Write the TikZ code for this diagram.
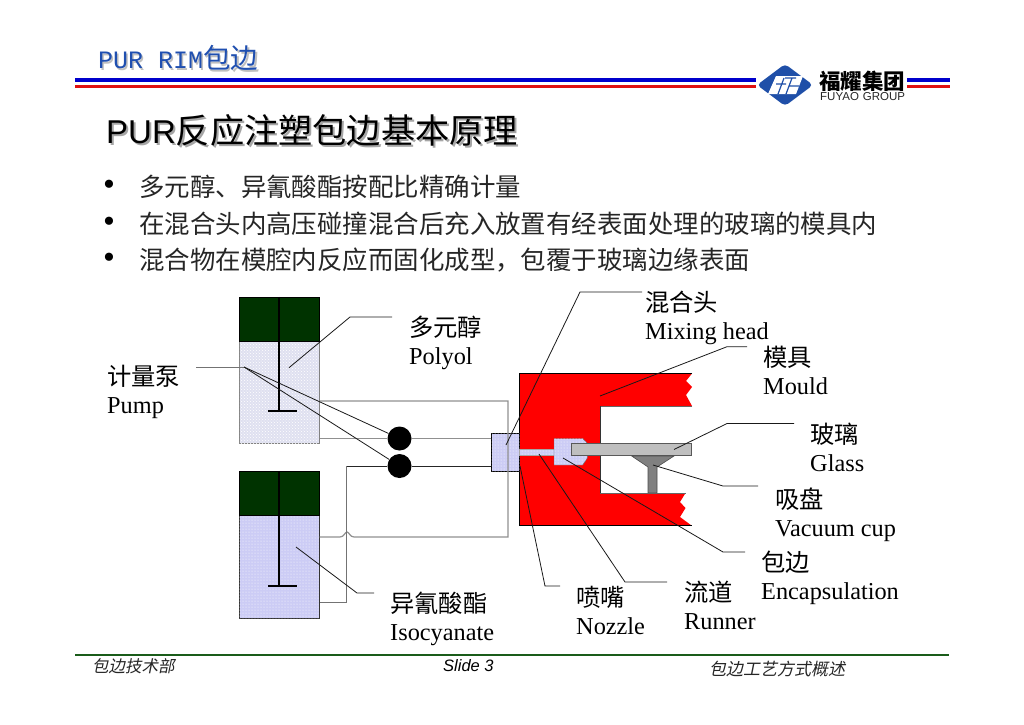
\documentclass[tikz,border=0pt]{standalone}
\usepackage{fontspec}
\usepackage{xcolor}
\usepackage{tikz}
\usetikzlibrary{patterns}
\setmainfont{Liberation Serif}
\setsansfont{Liberation Sans}
\setmonofont{Liberation Mono}
\newfontfamily\cjk{Noto Sans CJK SC}
\newfontfamily\cjkslant[FakeSlant=0.2]{Noto Sans CJK SC}
\definecolor{mHeadBlue}{HTML}{1F4FB0}
\definecolor{mRuleBlue}{HTML}{0000CC}
\definecolor{mRuleRed}{HTML}{E01010}
\definecolor{mLogoBlue}{HTML}{1F4FA8}
\definecolor{mFootGreen}{HTML}{1A5C1A}
\definecolor{mTankDark}{HTML}{003300}
\definecolor{mPolyol}{HTML}{DFE0F0}
\definecolor{mIso}{HTML}{CCCCF5}
\definecolor{mMould}{HTML}{FF0000}
\definecolor{mGlass}{HTML}{BFBFBF}
\definecolor{mCup}{HTML}{808080}
\definecolor{mPipe}{HTML}{909090}
\begin{document}
\begin{tikzpicture}[x=1pt,y=-1pt,
      txt/.style={anchor=west, inner sep=0pt, align=left},
      lbl/.style={txt, font=\fontsize{24.3}{28}\selectfont},
      bodytxt/.style={txt, font=\fontsize{25.45}{28}\selectfont, text=black!85},
      foot/.style={txt, font=\fontsize{16.5}{20}\selectfont, text=black!85},
      bul/.style={txt, font=\fontsize{34}{36}\selectfont},
      toptank/.style={draw=black, fill=mTankDark, minimum width=80pt, inner sep=0pt},
      liqa/.style={draw=black!50, fill=mPolyol, minimum width=80pt, inner sep=0pt,
                   postaction={pattern=crosshatch dots, pattern color=white}},
      liqb/.style={draw=black!80, fill=mIso, minimum width=80pt, inner sep=0pt,
                   postaction={pattern=dots, pattern color=white}},
      rod/.style={line width=2.6pt, black},
      pumpdot/.style={circle, fill=black, minimum size=24pt, inner sep=0pt},
      pipe/.style={line width=1.2pt, mPipe},
      pipeb/.style={line width=1pt, black!85},
      pipec/.style={line width=1pt, black!55},
      lead/.style={line width=0.8pt, black!90}
    ]
    \useasboundingbox (0,0) rectangle (1024,724);
    % header
    \node[txt, text=black!25, font=\ttfamily\fontsize{25}{28}\selectfont] (headsh) at (99.5,60) {PUR RIM{\cjk\fontsize{27.5}{28}\selectfont 包边}};
    \node[txt, text=mHeadBlue, font=\ttfamily\fontsize{25}{28}\selectfont] (head) at (98,58) {PUR RIM{\cjk\fontsize{27.5}{28}\selectfont 包边}};
    \fill[mRuleBlue] (75,78) rectangle (756,82);
    \fill[mRuleRed] (75,85) rectangle (756,88);
    \fill[mRuleBlue] (907,78) rectangle (950,82);
    \fill[mRuleRed] (907,85) rectangle (950,88);
    % logo
    \fill[mLogoBlue, rounded corners=4pt] (757,85) -- (785,64) -- (813,85) -- (785,106) -- cycle;
    \fill[white] (776,76) -- (803,76) -- (796,94) -- (768,94) -- cycle;
    \draw[mLogoBlue, line width=1.2pt] (776,84) -- (786,84) (784,78) -- (778,94) (785,78) -- (796,78)
      (792,78) -- (789,86) -- (799,86) (789,86) -- (786,94);
    \node[txt, font=\cjk\bfseries\fontsize{21.5}{24}\selectfont] (brand) at (819,81) {福耀集团};
    \node[txt, font=\sffamily\fontsize{11.5}{14}\selectfont, text=black!85] (brandlat) at (820,97) {FUYAO\hspace{4pt}GROUP};
    % title
    \node[txt, text=black!35, font=\fontsize{33}{36}\selectfont] (titlesh) at (108,132) {\sffamily PUR{\cjk\fontsize{34.2}{36}\selectfont 反应注塑包边基本原理}};
    \node[txt, font=\fontsize{33}{36}\selectfont] (title) at (106,130) {\sffamily PUR{\cjk\fontsize{34.2}{36}\selectfont 反应注塑包边基本原理}};
    % bullets
    \node[bul] (bua) at (103,188) {•};
    \node[bul] (bub) at (103,225) {•};
    \node[bul] (buc) at (103,261) {•};
    \node[bodytxt] (linea) at (139,187) {\cjk 多元醇、异氰酸酯按配比精确计量};
    \node[bodytxt] (lineb) at (139,224) {\cjk 在混合头内高压碰撞混合后充入放置有经表面处理的玻璃的模具内};
    \node[bodytxt] (linec) at (139,260) {\cjk 混合物在模腔内反应而固化成型，包覆于玻璃边缘表面};
    % tanks
    \node[liqa, minimum height=102pt] (polyolliq) at (279,392) {};
    \node[toptank, minimum height=44pt] (polyoltop) at (279,319) {};
    \node[liqb, minimum height=103pt] (isoliq) at (279,566.5) {};
    \node[toptank, minimum height=44pt] (isotop) at (279,493) {};
    \coordinate (rodaend) at (279,411);
    \coordinate (rodbend) at (279,586);
    \draw[rod] (polyoltop.north) -- (rodaend);
    \draw[rod] (268,411) -- (297,411);
    \draw[rod] (isotop.north) -- (rodbend);
    \draw[rod] (268,586) -- (297,586);
    % mould
    \fill[mMould] (519.5,373.5) -- (692,373.5) -- (686,381) -- (692,387) -- (686,395) -- (692,406)
      -- (600,406) -- (600,493) -- (685.5,493) -- (680,502) -- (685.5,508) -- (680,517) -- (691.5,525.5)
      -- (519.5,525.5) -- cycle;
    \draw[black, line width=0.8pt] (692,373.5) -- (519.5,373.5) -- (519.5,525.5) -- (691.5,525.5);
    \draw[black!60, line width=0.8pt] (692,406) -- (600,406);
    \draw[black!80, line width=0.8pt] (600,406) -- (600,493);
    \draw[black!60, line width=0.8pt] (600,493) -- (685.5,493);
    % pumps, mixing head, pipes
    \node[pumpdot] (pumpa) at (399.5,438.5) {};
    \node[pumpdot] (pumpb) at (399.5,466) {};
    \node[liqb, draw=black, minimum width=28.5pt, minimum height=38pt] (mixhead) at (505,452) {};
    \coordinate (polyolout) at (319.5,401);
    \coordinate (polyolret) at (319.5,438.5);
    \coordinate (isoret) at (319.5,537);
    \coordinate (isoout) at (319.5,602);
    \draw[pipe] (polyolout) -- (508,401) -- (508,537) -- (354,537) .. controls (350,537) and (349,532) .. (347,532)
      .. controls (345,532) and (344,537) .. (340,537) -- (isoret);
    \draw[pipe] (polyolret) -- (pumpa);
    \draw[pipe] (pumpa) -- (mixhead.west |- pumpa);
    \draw[pipeb] (pumpb) -- (mixhead.west |- pumpb);
    \draw[pipeb] (pumpb) -- (346,466);
    \draw[pipec] (346,466) -- (346,602) -- (isoout);
    % nozzle, runner, glass, cup
    \draw[black!35, fill=mIso, postaction={pattern=dots, pattern color=white}] (519.5,449) rectangle (554,455);
    \draw[black!60, fill=mIso, postaction={pattern=dots, pattern color=white}] (554,438.7) -- (583,438.7) -- (587,443) -- (587.3,458)
      -- (582.7,465) -- (554,465) -- cycle;
    \draw[black!65, fill=mGlass, line width=0.8pt] (571.3,443.3) rectangle (691.5,455.3);
    \draw[black!70, fill=mCup, line width=0.6pt] (631.7,456) -- (674,456) -- (657,467) -- (657,492.7) -- (648,492.7) -- (648,467) -- cycle;
    % labels
    \node[lbl] (polyol) at (409,342.5) {{\cjk 多元醇}\\Polyol};
    \node[lbl] (pump) at (107,392) {{\cjk 计量泵}\\Pump};
    \node[lbl] (mixing) at (645,318) {{\cjk 混合头}\\Mixing head};
    \node[lbl] (mould) at (763,370.5) {{\cjk 模具}\\Mould};
    \node[lbl] (glass) at (810,447) {{\cjk 玻璃}\\Glass};
    \node[lbl] (vacuum) at (775,515) {{\cjk 吸盘}\\Vacuum cup};
    \node[lbl] (encap) at (761,578) {{\cjk 包边}\\Encapsulation};
    \node[lbl] (runner) at (684,605.5) {{\cjk 流道}\\Runner};
    \node[lbl] (nozzle) at (576,610) {{\cjk 喷嘴}\\Nozzle};
    \node[lbl] (isocy) at (390,619) {{\cjk 异氰酸酯}\\Isocyanate};
    % leaders
    \coordinate (inpolyol) at (289,367.7);
    \coordinate (iniso) at (296,547);
    \coordinate (pumpfork) at (244,367);
    \coordinate (inhead) at (506,445);
    \coordinate (inmould) at (600,396);
    \coordinate (inglass) at (674,449.5);
    \coordinate (incup) at (653,465);
    \coordinate (inencap) at (563,458);
    \coordinate (inrunner) at (539,454);
    \coordinate (innozzle) at (520,466);
    \draw[lead] (inpolyol) -- (350,317) -- (392,317);
    \draw[lead] (iniso) -- (357,593) -- (374,593);
    \draw[lead, black!55] (196,367) -- (pumpfork);
    \draw[lead] (pumpfork) -- (pumpa);
    \draw[lead] (pumpfork) -- (pumpb);
    \draw[lead] (inhead) -- (580,292) -- (642,292);
    \draw[lead] (inmould) -- (727,346.7) -- (747,346.7);
    \draw[lead] (inglass) -- (727,423.5) -- (794,423.5);
    \draw[lead] (incup) -- (723,486) -- (758,486);
    \draw[lead] (inencap) -- (723,552) -- (745,552);
    \draw[lead] (inrunner) -- (625,582) -- (667,582);
    \draw[lead] (innozzle) -- (545,586) -- (560,586);
    % footer
    \draw[mFootGreen, line width=2pt] (75,655) -- (949,655);
    \node[foot, font=\cjkslant\fontsize{16.5}{20}\selectfont] (footl) at (92,666) {包边技术部};
    \node[foot, text=black, font=\sffamily\itshape\fontsize{16.5}{20}\selectfont] (footm) at (443,666) {Slide 3};
    \node[foot, font=\cjkslant\fontsize{17}{20}\selectfont] (footr) at (709,669) {包边工艺方式概述};
\end{tikzpicture}
\end{document}
